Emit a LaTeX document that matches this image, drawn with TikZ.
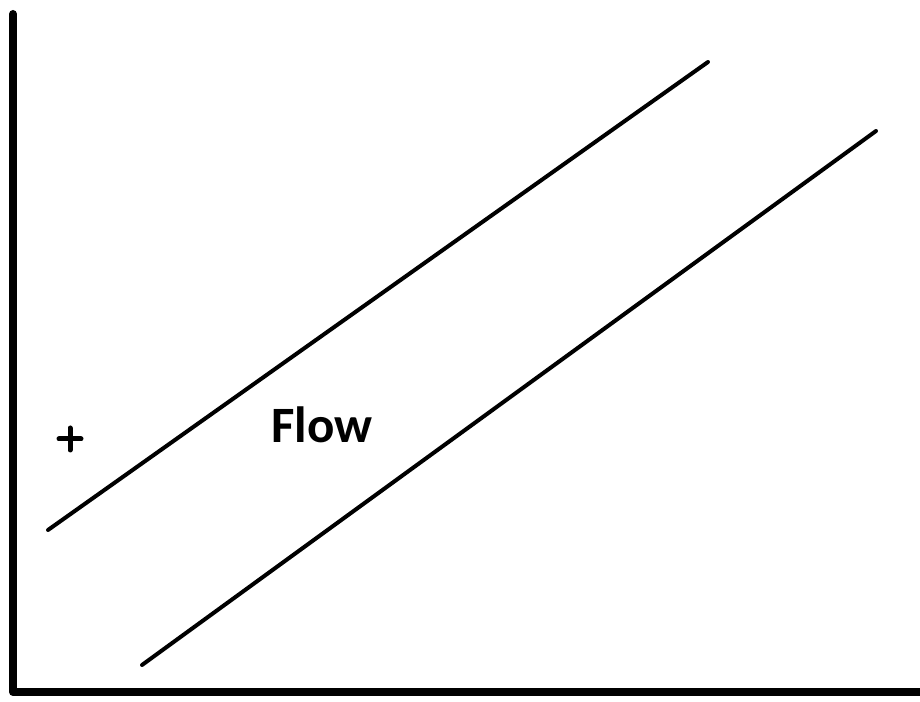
\documentclass[tikz,border=0pt]{standalone}
\usepackage{fontspec}
\setmainfont{Carlito}
\usepackage{tikz}
\usetikzlibrary{positioning}
\tikzset{
	axisline/.style={line width=0.16cm, line cap=round, line join=round},
	wall/.style={line width=0.08cm, line cap=round},
	cross/.style={line width=0.1cm, line cap=round},
	lbl/.style={font=\fontsize{29}{33}\selectfont\bfseries, inner sep=0pt},
}
\begin{document}
\begin{tikzpicture}
			\useasboundingbox (0,0) rectangle (18.4,14.04);
			% axes
			\coordinate (ytop) at (0.26,13.76);
			\coordinate (orig) at (0.26,0.2);
			\coordinate (xend) at (18.6,0.2);
			\draw[axisline] (ytop) -- (orig) -- (xend);
			
			% channel walls
			\coordinate (ua) at (0.96,3.44);
			\coordinate (ub) at (14.16,12.8);
			\coordinate (la) at (2.84,0.74);
			\coordinate (lb) at (17.52,11.42);
			\draw[wall] (ua) -- (ub);
			\draw[wall] (la) -- (lb);
			
			\node[lbl] (flow) at (6.44,5.55) {Flow};
			
			% small plus sign
			\coordinate (plus) at (1.4,5.26);
			\draw[cross] ([xshift=-0.22cm]plus) -- ([xshift=0.22cm]plus);
			\draw[cross] ([yshift=-0.22cm]plus) -- ([yshift=0.22cm]plus);
		\end{tikzpicture}
\end{document}
